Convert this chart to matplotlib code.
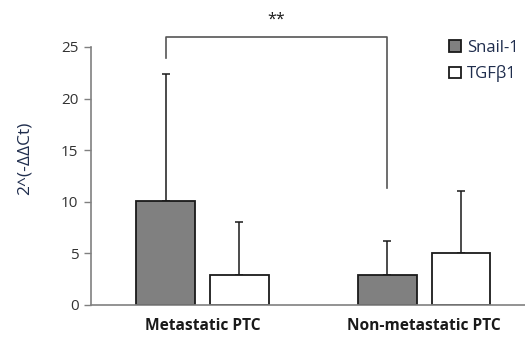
import matplotlib
matplotlib.use("Agg")
import matplotlib.pyplot as plt
import numpy as np

plt.rcParams['font.family'] = ['Open Sans', 'DejaVu Sans']

groups = ["Metastatic PTC", "Non-metastatic PTC"]
series = ["Snail-1", "TGFβ1"]
snail = [10.05, 2.9]
snail_err = [12.35, 3.35]
tgf = [2.9, 5.05]
tgf_err = [5.1, 5.95]
yticks = [0, 5, 10, 15, 20, 25]

fig = plt.figure(figsize=(5.25, 3.38), dpi=100)
ax = fig.add_axes([91/525, 33/338, 1 - 91/525, 258/338])

x = np.arange(len(groups))
w = 0.266
off = 0.166
edge = '#1a1a1a'
ax.bar(x - off, snail, w, color='#808080', edgecolor=edge, linewidth=1.3, label=series[0], zorder=2)
ax.bar(x + off, tgf, w, color='white', edgecolor=edge, linewidth=1.3, label=series[1], zorder=2)
ax.errorbar(x - off, snail, yerr=[np.zeros(2), snail_err], fmt='none', ecolor=edge,
            elinewidth=1.1, capsize=3, capthick=1.1, zorder=1)
ax.errorbar(x + off, tgf, yerr=[np.zeros(2), tgf_err], fmt='none', ecolor=edge,
            elinewidth=1.1, capsize=3, capthick=1.1, zorder=1)

ax.set_xlim(-0.504, 1.455)
ax.set_ylim(0, 25)
ax.set_yticks(yticks)
ax.set_yticklabels([str(t) for t in yticks], fontsize=11, color='#333333')
ax.set_xticks(x)
ax.set_xticklabels(groups, fontsize=11.2, fontweight='bold', color='#1a1a1a')
ax.tick_params(axis='x', length=0, pad=9)
ax.tick_params(axis='y', length=5, width=1, color='#808080', pad=4)
for s in ['top', 'right']:
    ax.spines[s].set_visible(False)
for s in ['left', 'bottom']:
    ax.spines[s].set_color('#808080')
    ax.spines[s].set_linewidth(1.2)

ax.set_ylabel("2^(-ΔΔCt)", fontsize=12.5, color='#1f2d4d')
ax.yaxis.set_label_coords((33 - 91) / (525 - 91), (305 - 158) / 258)

# significance bracket
x1, x2 = x[0] - off, x[1] - off
ax.plot([x1, x1, x2, x2], [23.9, 25.95, 25.95, 11.3], color='#555555', lw=1.2, clip_on=False)
ax.text((x1 + x2) / 2, 26.9, "**", ha='center', va='bottom', fontsize=11.5, color='#1a1a1a')

leg = ax.legend(loc='upper left', bbox_to_anchor=(0.79, 1.085), frameon=False, fontsize=12,
                handlelength=0.7, handleheight=0.7, handletextpad=0.4, labelspacing=0.55)
for t in leg.get_texts():
    t.set_color('#1f2d4d')

fig.savefig("out.png", dpi=100)
